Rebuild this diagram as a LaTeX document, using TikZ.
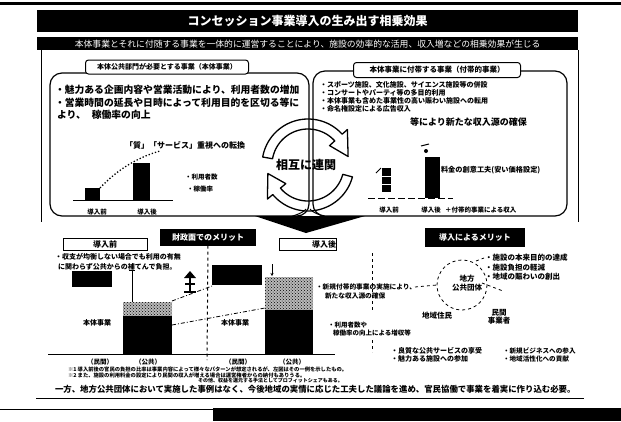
\documentclass[tikz,border=0pt]{standalone}
\usepackage{fontspec}
\setmainfont{Noto Sans CJK JP}
\usetikzlibrary{patterns,arrows.meta,calc}
\tikzset{
  tx/.style={inner sep=0pt, outer sep=0pt, font=\bfseries\fontsize{#1pt}{#1pt}\selectfont},
  blackbar/.style={fill=black, text=white, inner sep=0pt},
  panel/.style={draw, line width=1.2pt, rounded corners=12pt},
  tagbox/.style={draw, fill=white, line width=1pt, rounded corners=3pt, inner sep=0pt},
  framebox/.style={draw, line width=1pt, inner sep=0pt},
  cararrow/.style={draw, line width=1.3pt, line join=round},
  dline/.style={dashed, line width=0.8pt},
  dashdot/.style={line width=0.8pt, dash pattern=on 4pt off 2pt on 1pt off 2pt},
  speck/.style={pattern=crosshatch dots, pattern color=black},
}
\begin{document}
\begin{tikzpicture}[x=1pt,y=-1pt]
\useasboundingbox (0,0) rectangle (621,421);
% top stripe
\fill (0,2) rectangle (621,5);
% title bars
\node[blackbar, anchor=north west, minimum width=541pt, minimum height=22pt, tx=12] (title) at (37,10) {コンセッション事業導入の生み出す相乗効果};
\node[blackbar, anchor=north west, minimum width=541pt, minimum height=13pt, font=\fontsize{8.8pt}{8.8pt}\selectfont] (sub) at (37,37) {本体事業とそれに付随する事業を一体的に運営することにより、施設の効率的な活用、収入増などの相乗効果が生じる};
% outer frame sides
\draw[line width=1pt] (41,50) -- (41,222);
\draw[line width=1pt] (578,50) -- (578,222);
% panels
\draw[panel] (50,73) rectangle (309,216);
\draw[panel] (313,71) rectangle (567,216);
\node[tagbox, minimum width=163pt, minimum height=14pt, tx=7] (ltag) at (167,67) {本体公共部門が必要とする事業（本体事業）};
\node[tagbox, minimum width=167pt, minimum height=15pt, tx=7.5] (rtag) at (437,70) {本体事業に付帯する事業（付帯的事業）};
% left panel text
\node[tx=9.8, anchor=west] (l1) at (55,90) {・魅力ある企画内容や営業活動により、利用者数の増加};
\node[tx=9.8, anchor=west] (l2) at (55,102.5) {・営業時間の延長や日時によって利用目的を区切る等に};
\node[tx=9.8, anchor=west] (l3) at (57,115) {より、\hspace{6pt}稼働率の向上};
\node[tx=8] (lq) at (185,145) {「質」「サービス」重視への転換};
% left chart
\draw[line width=1pt] (73,200) -- (173,200);
\fill (85,188) rectangle (100,200);
\fill (133,163) rectangle (150,200);
\draw[line width=1.3pt, dotted] (100,188) .. controls (115,172) and (135,158) .. (160,151);
\node[tx=6.5, anchor=west] (lg1) at (185,177) {・利用者数};
\node[tx=6.5, anchor=west] (lg2) at (187,189) {・稼働率};
\node[tx=6.5] (lb1) at (97,212) {導入前};
\node[tx=6.5] (lb2) at (147,212) {導入後};
% right panel text
\node[tx=7, anchor=west] (r1) at (320,85) {・スポーツ施設、文化施設、サイエンス施設等の併設};
\node[tx=7, anchor=west] (r2) at (320,93) {・コンサートやパーティ等の多目的利用};
\node[tx=7, anchor=west] (r3) at (320,101) {・本体事業も含めた事業性の高い賑わい施設への転用};
\node[tx=7, anchor=west] (r4) at (320,109) {・命名権設定による広告収入};
\node[tx=9, anchor=west] (r5) at (410,122) {等により新たな収入源の確保};
% right chart
\draw[line width=0.8pt, dash pattern=on 7pt off 3pt] (368,198) -- (453,198);
\fill (382,168) rectangle (391,192);
\draw[white, line width=1pt] (382,176) -- (391,176) (382,184) -- (391,184);
\draw[line width=1pt] (376,173) -- (381,168);
\fill (425,157) rectangle (440,198);
\fill (426,151) circle (2pt);
\draw[line width=1pt] (421,146) -- (429,144);
\node[tx=7.2, anchor=west] (r6) at (441,170) {料金の創意工夫(安い価格設定)};
\node[tx=6.5] (rb1) at (389,210) {導入前};
\node[tx=6.5] (rb2) at (431,210) {導入後};
\node[tx=6.5, anchor=west] (rb3) at (445,210) {＋付帯的事業による収入};
% circular arrows
\draw[cararrow] plot[domain=190:318,samples=40] ({308+46*cos(\x)},{165+46*sin(\x)}) -- ({308+53*cos(318)},{165+53*sin(318)}) -- ({308+41*cos(348)},{165+41*sin(348)}) -- ({308+29*cos(318)},{165+29*sin(318)}) -- plot[domain=318:190,samples=40] ({308+36*cos(\x)},{165+36*sin(\x)}) -- cycle;
\draw[cararrow] plot[domain=15:140,samples=40] ({308+46*cos(\x)},{165+46*sin(\x)}) -- ({308+53*cos(140)},{165+53*sin(140)}) -- ({308+41*cos(168)},{165+41*sin(168)}) -- ({308+29*cos(140)},{165+29*sin(140)}) -- plot[domain=140:15,samples=40] ({308+36*cos(\x)},{165+36*sin(\x)}) -- cycle;
\node[tx=12] (mutual) at (306,165) {相互に連関};
% stand and big arrow
\draw[line width=1pt] (290,217) .. controls (299,214) and (304,212) .. (306,209);
\draw[line width=1pt] (326,217) .. controls (317,214) and (312,212) .. (310,209);
\fill (255,216) -- (365,216) -- (306,233) -- cycle;
% ===== bottom left =====
\node[blackbar, minimum width=96pt, minimum height=17pt, tx=8] (fbox) at (208,237) {財政面でのメリット};
\node[framebox, minimum width=84pt, minimum height=12pt, tx=8] (bef) at (105,244) {導入前};
\node[framebox, text width=57pt, inner xsep=14pt, minimum height=12pt, align=right, tx=8] (aft) at (307.5,244) {導入後};
\node[tx=7, anchor=west] (b1) at (55,257) {・収支が均衡しない場合でも利用の有無};
\node[tx=7, anchor=west] (b2) at (58,267) {に関わらず公共からの補てんで負担。};
% left chart
\fill (72,271) rectangle (112,287);
\draw[line width=1pt] (129,270) -- (135,270);
\draw[line width=1pt] (132,270) -- (132,302);
\fill (123,302) rectangle (172,354);
\fill[gray!55] (123,302) rectangle (172,316);
\fill[speck] (123,302) rectangle (172,316);
\node[tx=7] (hon1) at (97,323) {本体事業};
% icon
\fill (190,271) -- (184,278) -- (196,278) -- cycle;
\draw[line width=1.2pt] (190,278) -- (190,291);
\draw[line width=1.2pt] (185,284) -- (195,284);
\draw[line width=1.2pt] (184,292) -- (196,292);
% right chart
\fill (212,265) rectangle (262,285);
\draw[line width=1pt, -{Stealth[length=3pt,width=3pt]}] (272,264) -- (272,276);
\fill (265,310) rectangle (313,354);
\fill[gray!55] (265,277) rectangle (313,310);
\fill[speck] (265,277) rectangle (313,310);
\node[tx=7] (hon2) at (235,323) {本体事業};
% perspective lines
\draw[dashdot] (172,301) -- (212,286);
\draw[dashdot] (172,325) -- (265,308);
% baseline and divider
\draw[line width=1pt] (48,354) -- (335,354);
\draw[dashed, line width=1pt] (fbox.south) -- (207,360);
\node[tx=6.5] (p1) at (100,362) {（民間）};
\node[tx=6.5] (p2) at (148,362) {（公共）};
\node[tx=6.5] (p3) at (238,362) {（民間）};
\node[tx=6.5] (p4) at (292,362) {（公共）};
% footnotes
\node[tx=5.3, anchor=west] (f1) at (68,369) {※1 導入前後の官民の負担の比率は事業内容によって様々なパターンが想定されるが、左図はその一例を示したもの。};
\node[tx=5.3, anchor=west] (f2) at (68,375) {※2 また、施設の利用料金の設定により民間の収入が増える場合は運営権者からの納付もありうる。};
\node[tx=5, anchor=west] (f3) at (198,381) {その他、収益を還元する手法としてプロフィットシェアもある。};
\node[tx=8.4, anchor=west] (last) at (55,389) {一方、地方公共団体において実施した事例はなく、今後地域の実情に応じた工夫した議論を進め、官民協働で事業を着実に作り込む必要。};
\draw[line width=1pt] (36,398) -- (584,398);
\draw[line width=0.6pt] (0,409) -- (213,409);
\fill (213,408) rectangle (621,421);
% ===== bottom right =====
\node[blackbar, minimum width=100pt, minimum height=19pt, tx=8] (mbox) at (475,237.5) {導入によるメリット};
\node[tx=6.7, anchor=west] (n1) at (316,287) {・新規付帯的事業の実施により、};
\node[tx=6.7, anchor=west] (n2) at (325,296) {新たな収入源の確保};
\node[tx=6.5, anchor=west] (n3) at (328,325) {・利用者数や};
\node[tx=6.5, anchor=west] (n4) at (333,333) {稼働率の向上による増収等};
\draw[dashed, line width=1pt] (372,253) -- (372,312);
\draw[dashed, line width=1pt] (372,340) -- (372,352);
\draw[dline] (462,285) circle (25);
\node[tx=7.5, align=center] (gov) at (467,283) {地方\\[1pt]公共団体};
\node[tx=7.5] (jumin) at (437,316) {地域住民};
\node[tx=7.5, align=center] (minkan) at (499,317) {民間\\[1pt]事業者};
\draw[dline] (gov.east) -- (503,291);
\draw[dline] (415,287) -- (437,285);
\draw[dline] (476,261) -- (484,258);
\node[tx=7.5, anchor=west] (m1) at (485,258) {・施設の本来目的の達成};
\node[tx=7.5, anchor=west] (m2) at (485,268) {・施設負担の軽減};
\node[tx=7.5, anchor=west] (m3) at (485,277) {・地域の賑わいの創出};
\node[tx=7, anchor=west] (q1) at (391,351) {・良質な公共サービスの享受};
\node[tx=7, anchor=west] (q2) at (391,359) {・魅力ある施設への参加};
\node[tx=6.6, anchor=west] (q3) at (503,351) {・新規ビジネスへの参入};
\node[tx=6.6, anchor=west] (q4) at (503,359) {・地域活性化への貢献};
\end{tikzpicture}
\end{document}
